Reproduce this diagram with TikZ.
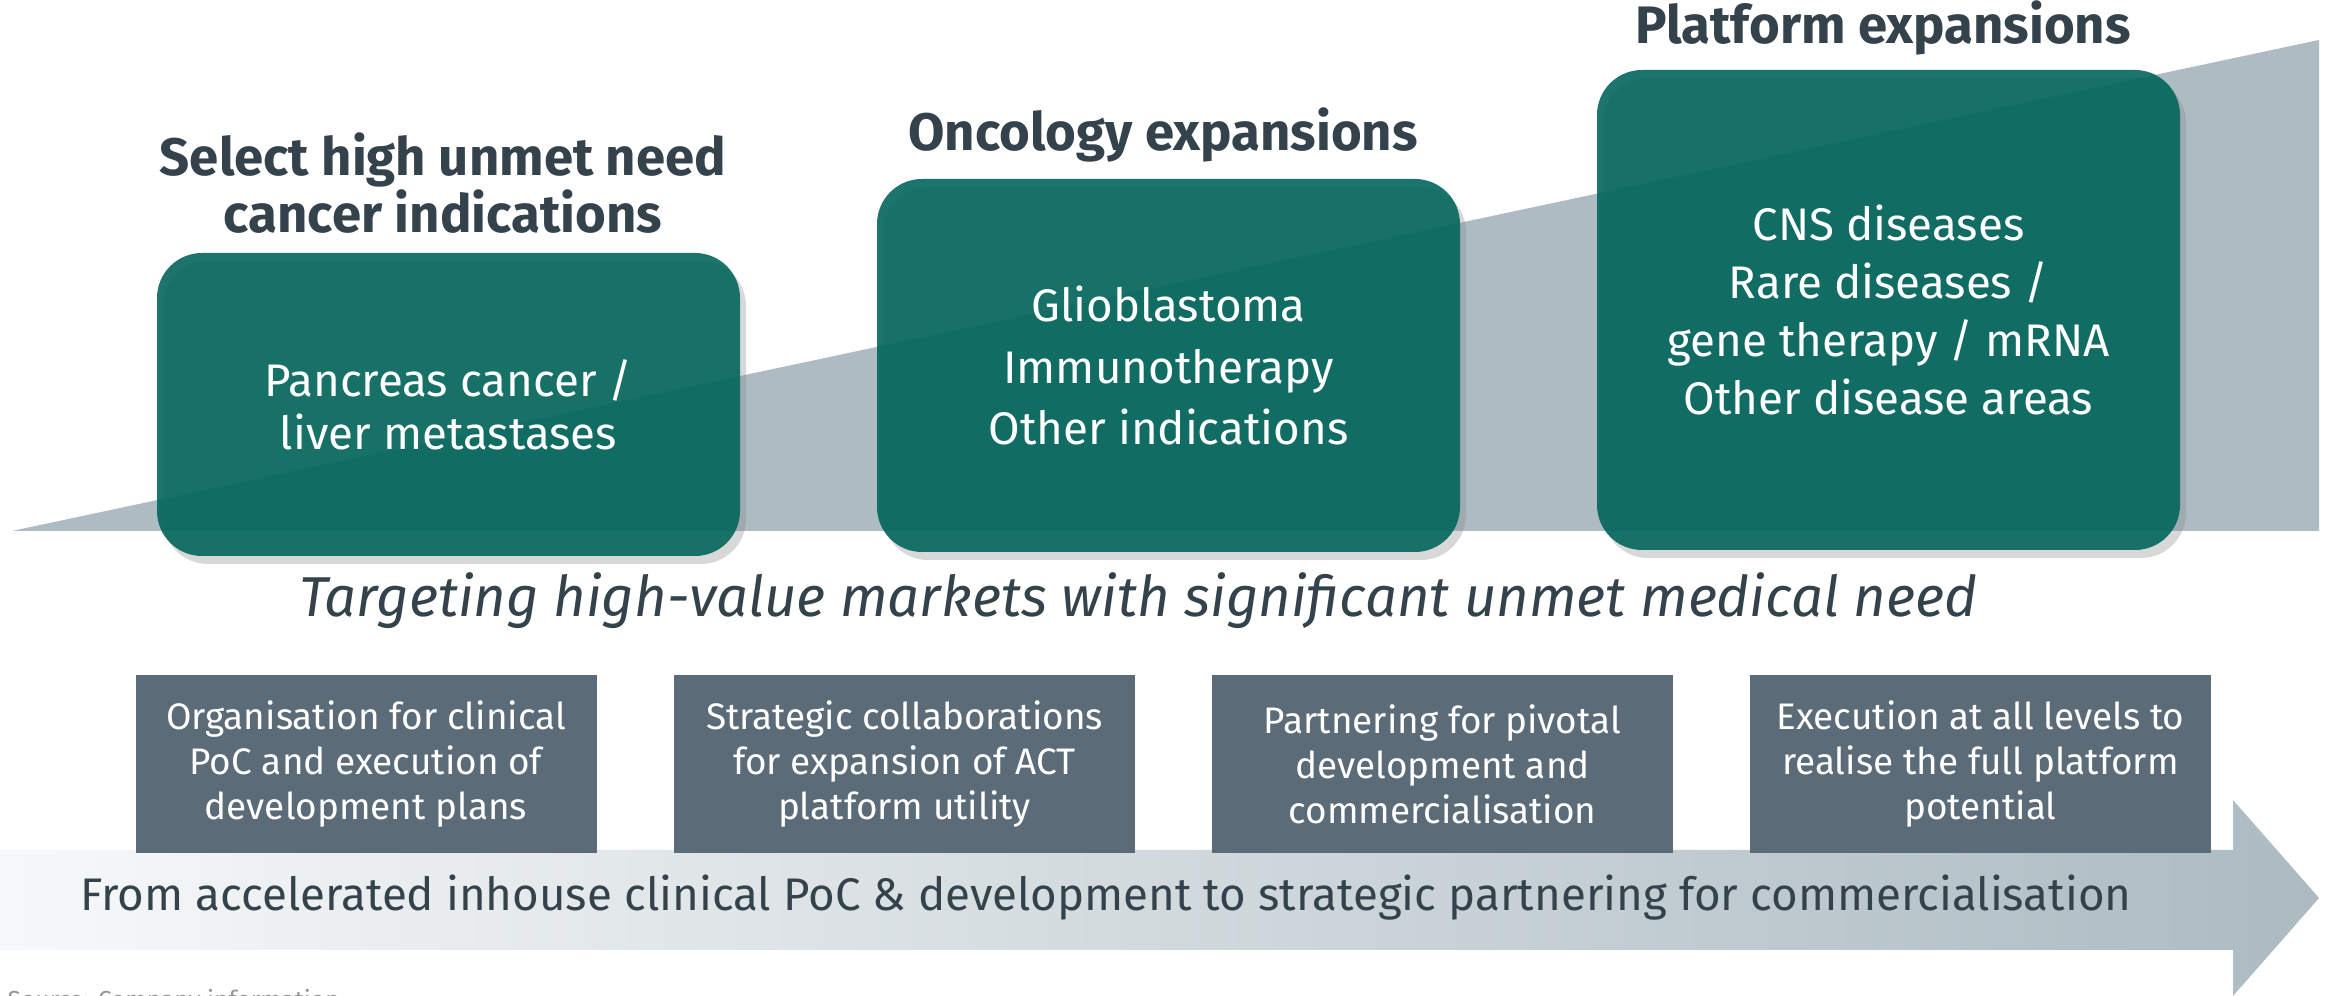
\documentclass[tikz,border=0pt]{standalone}
\usepackage{fontspec}
\setmainfont{Fira Sans}
\usetikzlibrary{shadows}
\definecolor{tealbox}{RGB}{0,101,90}
\definecolor{slate}{RGB}{52,66,75}
\definecolor{greyboxc}{RGB}{91,107,119}
\definecolor{tri}{RGB}{173,188,195}
\definecolor{arrowL}{RGB}{247,248,249}
\definecolor{arrowR}{RGB}{172,187,194}
\definecolor{srcgrey}{RGB}{150,150,150}
\tikzset{
  bigbox/.style={fill=tealbox, fill opacity=0.89, text opacity=1, rounded corners=4.5mm,
    text=white, align=center, inner sep=0pt,
    drop shadow={shadow xshift=0.6mm, shadow yshift=-0.8mm, opacity=0.3}},
  headline/.style={text=slate, align=center, inner sep=0pt, font=\fontsize{15}{16}\selectfont\bfseries},
  smallbox/.style={fill=greyboxc, text=white, align=center, inner sep=0pt,
    minimum width=46.1mm, minimum height=17.8mm, font=\fontsize{10.5}{12.8}\selectfont},
}
\begin{document}
\begin{tikzpicture}[x=0.1mm,y=-0.1mm]
\path[use as bounding box] (0,0) rectangle (2338,996);
\clip (0,0) rectangle (2338,996);
\fill[white] (0,0) rectangle (2338,996);
% rising wedge
\fill[tri] (12,531) -- (2319,40) -- (2319,531) -- cycle;
% headlines
\node[headline] (t1) at (443,183) {Select high unmet need\\cancer indications};
\node[headline] (t2) at (1163,135) {Oncology expansions};
\node[headline] (t3) at (1883,28) {Platform expansions};
% teal boxes
\node[bigbox, minimum width=58.3mm, minimum height=30.3mm, font=\fontsize{13}{15}\selectfont] (b1) at (448.5,404.5)
  {Pancreas cancer /\\liver metastases};
\node[bigbox, minimum width=58.3mm, minimum height=37.3mm, font=\fontsize{13}{17.4}\selectfont] (b2) at (1168.5,365.5)
  {Glioblastoma\\Immunotherapy\\Other indications};
\node[bigbox, minimum width=58.3mm, minimum height=48mm, font=\fontsize{13}{16.5}\selectfont] (b3) at (1888.5,310)
  {CNS diseases\\Rare diseases /\\gene therapy / mRNA\\Other disease areas};
% italic statement
\node[text=slate, inner sep=0pt, font=\fontsize{16}{18}\selectfont\itshape] (tag) at (1138,601)
  {Targeting high-value markets with significant unmet medical need};
% bottom arrow
\shade[left color=arrowL, right color=arrowR]
  (0,850) -- (2233,850) -- (2233,800) -- (2319,898) -- (2233,996) -- (2233,950) -- (0,950) -- cycle;
\node[text=slate, inner sep=0pt, font=\fontsize{13}{14}\selectfont] (arr) at (1106,898)
  {From accelerated inhouse clinical PoC \& development to strategic partnering for commercialisation};
% grey boxes
\node[smallbox] (s1) at (366,764) {Organisation for clinical\\PoC and execution of\\development plans};
\node[smallbox] (s2) at (904.5,764) {Strategic collaborations\\for expansion of ACT\\platform utility};
\node[smallbox] (s3) at (1442.5,764) {Partnering for pivotal\\development and\\commercialisation};
\node[smallbox] (s4) at (1980.5,764) {Execution at all levels to\\realise the full platform\\potential};
% source
\node[anchor=north west, inner sep=0pt, text=srcgrey, font=\fontsize{7}{9}\selectfont] (src) at (7,989)
  {Source: Company information};
\end{tikzpicture}
\end{document}
